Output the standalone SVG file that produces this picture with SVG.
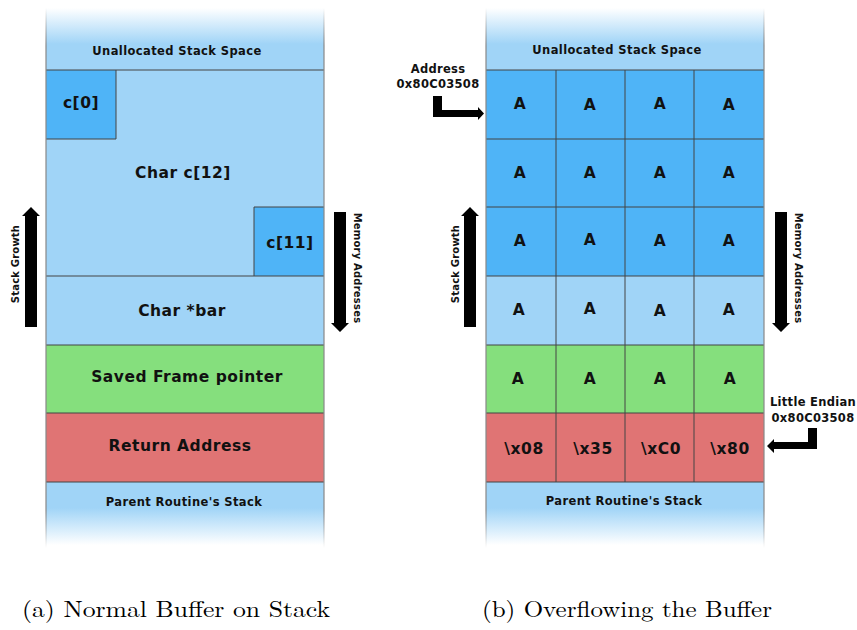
<svg xmlns="http://www.w3.org/2000/svg" width="857" height="630" viewBox="0 0 857 630">
  <defs>
    <linearGradient id="fadeTop" x1="0" y1="8" x2="0" y2="44" gradientUnits="userSpaceOnUse">
      <stop offset="0" stop-color="#ffffff"/>
      <stop offset="1" stop-color="#a0d4f7"/>
    </linearGradient>
    <linearGradient id="fadeBottom" x1="0" y1="508" x2="0" y2="545" gradientUnits="userSpaceOnUse">
      <stop offset="0" stop-color="#a0d4f7"/>
      <stop offset="1" stop-color="#ffffff"/>
    </linearGradient>
    <linearGradient id="edge" x1="0" y1="8" x2="0" y2="548" gradientUnits="userSpaceOnUse">
      <stop offset="0" stop-color="#888888" stop-opacity="0"/>
      <stop offset="0.07" stop-color="#888888" stop-opacity="1"/>
      <stop offset="0.93" stop-color="#888888" stop-opacity="1"/>
      <stop offset="1" stop-color="#888888" stop-opacity="0"/>
    </linearGradient>
  </defs>
  <style>
    text { font-family: "DejaVu Sans", Verdana, sans-serif; font-weight: bold; fill: #111; text-anchor: middle; }
    .sm { font-size: 11.5px; letter-spacing: 0.4px; }
    .md { font-size: 15.5px; letter-spacing: 0.5px; }
    .cell { font-size: 15.5px; letter-spacing: 0.6px; }
    .side { font-size: 10px; letter-spacing: 0.2px; }
    .note { font-size: 11.5px; letter-spacing: 0.3px; }
    .cap { font-family: "Latin Modern Roman", "Liberation Serif", serif; font-weight: normal; font-size: 23px; text-anchor: start; fill: #000; }
    .lt { fill: #a0d4f7; }
    .dk { fill: #4fb4f7; }
    .gr { fill: #85df7d; }
    .rd { fill: #e07474; }
    .ln { stroke: #444; stroke-width: 1; fill: none; }
    .edge { stroke: url(#edge); stroke-width: 1.2; fill: none; }
  </style>

  <!-- (a) normal stack frame -->
  <g id="stack-a">
    <g id="a-unallocated">
      <rect x="46" y="8" width="278" height="62" fill="url(#fadeTop)"/>
      <text class="sm" x="177" y="55">Unallocated Stack Space</text>
    </g>
    <g id="a-char-c12">
      <rect class="lt" x="46" y="70" width="278" height="206"/>
      <text class="md" x="183" y="178">Char c[12]</text>
    </g>
    <g id="a-c0">
      <rect class="dk" x="46" y="70" width="70" height="69"/>
      <path class="ln" d="M116 70V139H46"/>
      <text class="md" x="81" y="108">c[0]</text>
    </g>
    <g id="a-c11">
      <rect class="dk" x="254" y="207" width="70" height="69"/>
      <path class="ln" d="M324 207H254V276"/>
      <text class="md" x="290" y="248">c[11]</text>
    </g>
    <g id="a-bar">
      <rect class="lt" x="46" y="276" width="278" height="69"/>
      <text class="md" x="182" y="316">Char *bar</text>
    </g>
    <g id="a-sfp">
      <rect class="gr" x="46" y="345" width="278" height="68"/>
      <text class="md" x="187" y="382">Saved Frame pointer</text>
    </g>
    <g id="a-ret">
      <rect class="rd" x="46" y="413" width="278" height="69"/>
      <text class="md" x="180" y="451">Return Address</text>
    </g>
    <g id="a-parent">
      <rect x="46" y="482" width="278" height="66" fill="url(#fadeBottom)"/>
      <text class="sm" x="184" y="506">Parent Routine's Stack</text>
    </g>
    <path class="ln" d="M46 70H324M46 276H324M46 345H324M46 413H324M46 482H324"/>
    <path class="edge" d="M46 8V548M324 8V548"/>
  </g>

  <!-- (b) overflowed stack frame -->
  <g id="stack-b">
    <g id="b-unallocated">
      <rect x="486" y="8" width="278" height="62" fill="url(#fadeTop)"/>
      <text class="sm" x="617" y="54">Unallocated Stack Space</text>
    </g>
    <g id="b-buffer">
      <rect class="dk" x="486" y="70" width="278" height="206"/>
      <rect class="lt" x="486" y="276" width="278" height="69"/>
      <text class="cell" x="520" y="109">A</text><text class="cell" x="590" y="110">A</text><text class="cell" x="660" y="109">A</text><text class="cell" x="729" y="110">A</text>
      <text class="cell" x="520" y="178">A</text><text class="cell" x="590" y="178">A</text><text class="cell" x="660" y="178">A</text><text class="cell" x="729" y="178">A</text>
      <text class="cell" x="520" y="246">A</text><text class="cell" x="590" y="245">A</text><text class="cell" x="660" y="246">A</text><text class="cell" x="729" y="246">A</text>
      <text class="cell" x="519" y="315">A</text><text class="cell" x="590" y="314">A</text><text class="cell" x="660" y="316">A</text><text class="cell" x="729" y="315">A</text>
    </g>
    <g id="b-sfp">
      <rect class="gr" x="486" y="345" width="278" height="68"/>
      <text class="cell" x="518" y="384">A</text><text class="cell" x="590" y="384">A</text><text class="cell" x="660" y="384">A</text><text class="cell" x="730" y="384">A</text>
    </g>
    <g id="b-ret">
      <rect class="rd" x="486" y="413" width="278" height="69"/>
      <text class="cell" x="524" y="454">\x08</text><text class="cell" x="593" y="454">\x35</text><text class="cell" x="661" y="454">\xC0</text><text class="cell" x="730" y="454">\x80</text>
    </g>
    <g id="b-parent">
      <rect x="486" y="482" width="278" height="66" fill="url(#fadeBottom)"/>
      <text class="sm" x="624" y="505">Parent Routine's Stack</text>
    </g>
    <path class="ln" d="M486 70H764M486 139H764M486 207H764M486 276H764M486 345H764M486 413H764M486 482H764M556 70V482M625 70V482M694 70V482"/>
    <path class="edge" d="M486 8V548M764 8V548"/>
  </g>

  <!-- direction arrows and notes -->
  <g id="connectors" fill="#000">
    <path d="M25 327V216H22L31 207L40 216H37V327Z"/>
    <path d="M334 212V323H331L340 332L349 323H346V212Z"/>
    <path d="M464 327V216H461L470 207L479 216H476V327Z"/>
    <path d="M775 212V323H772L781 332L790 323H787V212Z"/>
    <path d="M433 96H442V110H478V107L484 113.5L478 120V117H433Z"/>
    <path d="M817 428H808V442H774V439L767 446L774 453V449H817Z"/>
  </g>
  <g id="labels">
    <text class="side" transform="translate(19 264) rotate(-90)">Stack Growth</text>
    <text class="side" transform="translate(354 268) rotate(90)">Memory Addresses</text>
    <text class="side" transform="translate(459 264) rotate(-90)">Stack Growth</text>
    <text class="side" transform="translate(795 268) rotate(90)">Memory Addresses</text>
    <text class="note" x="438" y="73">Address</text>
    <text class="note" x="438" y="88">0x80C03508</text>
    <text class="note" x="813" y="406">Little Endian</text>
    <text class="note" x="813" y="422">0x80C03508</text>
  </g>

  <g id="captions">
    <text class="cap" x="22" y="617" textLength="308" lengthAdjust="spacingAndGlyphs">(a) Normal Buffer on Stack</text>
    <text class="cap" x="482" y="617" textLength="290" lengthAdjust="spacingAndGlyphs">(b) Overflowing the Buffer</text>
  </g>
</svg>
